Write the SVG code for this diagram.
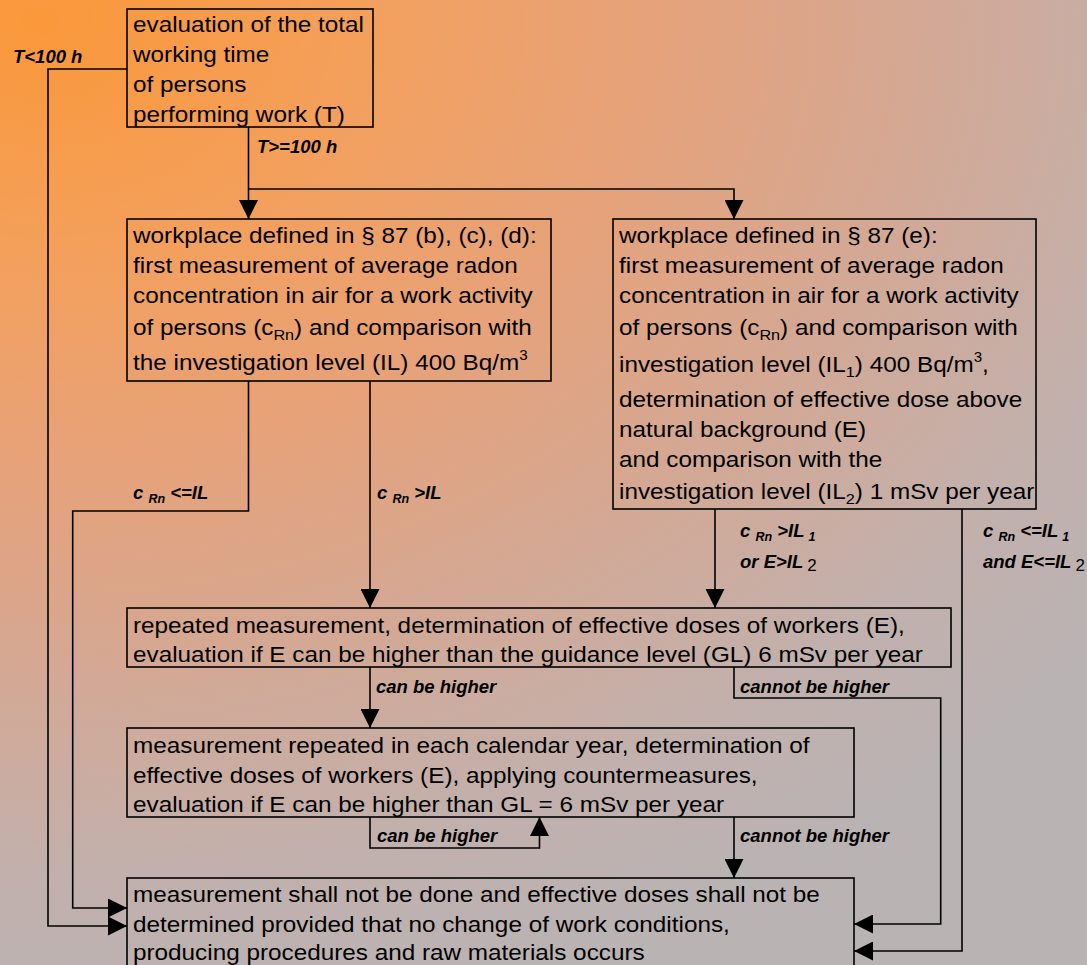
<svg xmlns="http://www.w3.org/2000/svg" width="1087" height="965" viewBox="0 0 1087 965">
<defs>
<radialGradient id="bg" gradientUnits="userSpaceOnUse" cx="40" cy="20" r="1000" gradientTransform="translate(40,20) scale(1.35,1) translate(-40,-20)">
<stop offset="0" stop-color="#FA983A"/>
<stop offset="0.25" stop-color="#F3A05E"/>
<stop offset="0.45" stop-color="#E6A27A"/>
<stop offset="0.65" stop-color="#D4A894"/>
<stop offset="0.85" stop-color="#C2B0AC"/>
<stop offset="1" stop-color="#BAB3B3"/>
</radialGradient>
<marker id="ah" markerUnits="userSpaceOnUse" markerWidth="19" markerHeight="19" refX="19" refY="9.5" orient="auto">
<path d="M0,0 L19,9.5 L0,19 z" fill="#000"/>
</marker>
<style>
.t{font-family:"Liberation Sans",Arial,sans-serif;font-size:22.5px;fill:#000}
.l{font-family:"Liberation Sans",Arial,sans-serif;font-size:18.5px;font-weight:bold;font-style:italic;fill:#000}
.box{fill:none;stroke:#000;stroke-width:1.6}
.c{fill:none;stroke:#000;stroke-width:1.6}
.a{marker-end:url(#ah)}
.sub{font-size:15px}
.sup{font-size:14px}
.ls{font-size:12.5px}
.n2{font-size:17px;font-weight:normal;font-style:normal}
</style>
</defs>
<rect x="0" y="0" width="1087" height="965" fill="url(#bg)"/>

<g id="connectors">
<path class="c a" d="M127,69 H48 V926 H127"/>
<path class="c a" d="M248.5,127 V219"/>
<path class="c a" d="M248.5,189 H734 V219"/>
<path class="c a" d="M248.5,381 V511 H72.7 V908 H127"/>
<path class="c a" d="M370,381 V608"/>
<path class="c a" d="M715,509 V608"/>
<path class="c a" d="M962,509 V951 H854"/>
<path class="c a" d="M370,667 V728"/>
<path class="c a" d="M734,667 V698 H940.7 V924 H854"/>
<path class="c a" d="M370,817 V848 H539.5 V817"/>
<path class="c a" d="M734,817 V878"/>
<text class="l" x="13" y="63">T&lt;100 h</text>
<text class="l" x="257" y="153">T&gt;=100 h</text>
<text class="l" x="133" y="499">c <tspan class="ls" dy="4">Rn</tspan><tspan dy="-4"> &lt;=IL</tspan></text>
<text class="l" x="377" y="499">c <tspan class="ls" dy="4">Rn</tspan><tspan dy="-4"> &gt;IL</tspan></text>
<text class="l" x="740" y="537">c <tspan class="ls" dy="4">Rn</tspan><tspan dy="-4"> &gt;IL</tspan><tspan class="ls" dx="4" dy="4">1</tspan></text>
<text class="l" x="740" y="568">or E&gt;IL<tspan class="n2" dx="4" dy="3">2</tspan></text>
<text class="l" x="983" y="537">c <tspan class="ls" dy="4">Rn</tspan><tspan dy="-4"> &lt;=IL</tspan><tspan class="ls" dx="4" dy="4">1</tspan></text>
<text class="l" x="983" y="568">and E&lt;=IL<tspan class="n2" dx="4" dy="3">2</tspan></text>
<text class="l" x="376" y="693">can be higher</text>
<text class="l" x="740" y="693">cannot be higher</text>
<text class="l" x="377" y="842">can be higher</text>
<text class="l" x="740" y="842">cannot be higher</text>
</g>

<g id="node-total-time">
<rect class="box" x="127" y="9" width="246" height="118"/>
<g transform="translate(133,0) scale(1.08,1)">
<text class="t" x="0" y="32">evaluation of the total</text>
<text class="t" x="0" y="62">working time</text>
<text class="t" x="0" y="92">of persons</text>
<text class="t" x="0" y="122">performing work (T)</text>
</g>
</g>

<g id="node-workplace-bcd">
<rect class="box" x="127" y="219" width="424" height="162"/>
<g transform="translate(133,0) scale(1.08,1)">
<text class="t" x="0" y="243.5">workplace defined in § 87 (b), (c), (d):</text>
<text class="t" x="0" y="273.3">first measurement of average radon</text>
<text class="t" x="0" y="303">concentration in air for a work activity</text>
<text class="t" x="0" y="335">of persons (c<tspan class="sub" dy="5">Rn</tspan><tspan dy="-5">) and comparison with</tspan></text>
<text class="t" x="0" y="370">the investigation level (IL) 400 Bq/m<tspan class="sup" dy="-10">3</tspan></text>
</g>
</g>

<g id="node-workplace-e">
<rect class="box" x="613" y="219" width="423" height="290"/>
<g transform="translate(619,0) scale(1.08,1)">
<text class="t" x="0" y="243.5">workplace defined in § 87 (e):</text>
<text class="t" x="0" y="273.3">first measurement of average radon</text>
<text class="t" x="0" y="303.3">concentration in air for a work activity</text>
<text class="t" x="0" y="335">of persons (c<tspan class="sub" dy="5">Rn</tspan><tspan dy="-5">) and comparison with</tspan></text>
<text class="t" x="0" y="372.5">investigation level (IL<tspan class="sub" dy="5">1</tspan><tspan dy="-5">) 400 Bq/m</tspan><tspan class="sup" dy="-10">3</tspan><tspan dy="10">,</tspan></text>
<text class="t" x="0" y="407.3">determination of effective dose above</text>
<text class="t" x="0" y="437.3">natural background (E)</text>
<text class="t" x="0" y="467.3">and comparison with the</text>
<text class="t" x="0" y="499">investigation level (IL<tspan class="sub" dy="5">2</tspan><tspan dy="-5">) 1 mSv per year</tspan></text>
</g>
</g>

<g id="node-repeated">
<rect class="box" x="127" y="608" width="824" height="59"/>
<g transform="translate(133,0) scale(1.08,1)">
<text class="t" x="0" y="633.3">repeated measurement, determination of effective doses of workers (E),</text>
<text class="t" x="0" y="662.3">evaluation if E can be higher than the guidance level (GL) 6 mSv per year</text>
</g>
</g>

<g id="node-yearly">
<rect class="box" x="127" y="728" width="727" height="89"/>
<g transform="translate(133,0) scale(1.08,1)">
<text class="t" x="0" y="753.3">measurement repeated in each calendar year, determination of</text>
<text class="t" x="0" y="783.3">effective doses of workers (E), applying countermeasures,</text>
<text class="t" x="0" y="812.5">evaluation if E can be higher than GL = 6 mSv per year</text>
</g>
</g>

<g id="node-no-measurement">
<rect class="box" x="127" y="878" width="727" height="100"/>
<g transform="translate(133,0) scale(1.08,1)">
<text class="t" x="0" y="902">measurement shall not be done and effective doses shall not be</text>
<text class="t" x="0" y="932">determined provided that no change of work conditions,</text>
<text class="t" x="0" y="960">producing procedures and raw materials occurs</text>
</g>
</g>
</svg>
